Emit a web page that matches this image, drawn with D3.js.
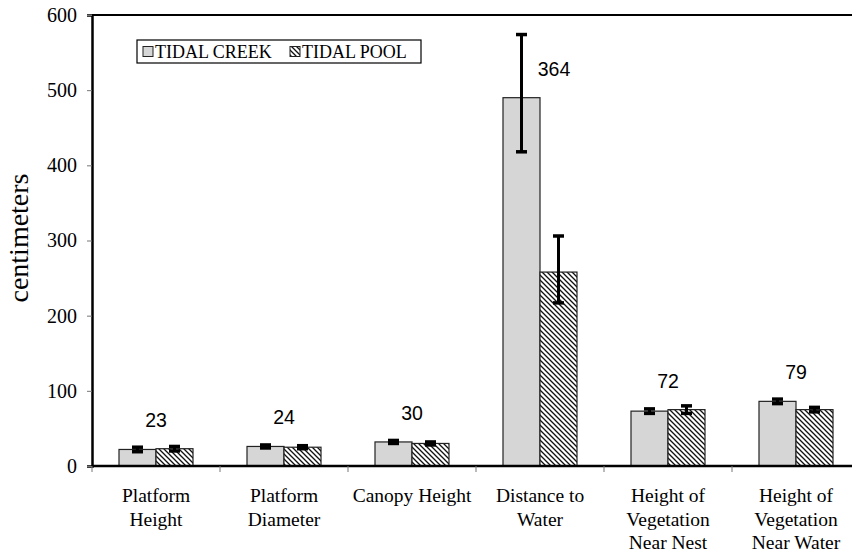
<!DOCTYPE html>
<html>
<head>
<meta charset="utf-8">
<script src="https://cdn.jsdelivr.net/npm/d3@7"></script>
<style>
  body { margin: 0; background: #fff; }
  svg { display: block; }
</style>
</head>
<body>
<div id="chart"></div>
<script>
// chart values
var categories = ["Platform Height", "Platform Diameter", "Canopy Height", "Distance to Water",
                  "Height of Vegetation Near Nest", "Height of Vegetation Near Water"];
var catLines = [["Platform", "Height"], ["Platform", "Diameter"], ["Canopy Height"], ["Distance to", "Water"],
                ["Height of", "Vegetation", "Near Nest"], ["Height of", "Vegetation", "Near Water"]];
var series = ["TIDAL CREEK", "TIDAL POOL"];
var creek = [22, 26, 32, 490, 73, 86];
var pool = [23, 25, 30, 258, 75, 75];
var creekErrHi = [3, 2, 2, 84, 3, 3];
var creekErrLo = [3, 2, 2, 72, 3, 3];
var poolErrHi = [3, 2, 2, 48, 5, 3];
var poolErrLo = [3, 2, 2, 41, 5, 3];
var nLabels = ["23", "24", "30", "364", "72", "79"];
var yTicks = [0, 100, 200, 300, 400, 500, 600];

var W = 852, H = 554;
var svg = d3.select("#chart").append("svg").attr("width", W).attr("height", H);

var defs = svg.append("defs");
var hatch = defs.append("pattern").attr("id", "hatch").attr("patternUnits", "userSpaceOnUse")
    .attr("width", 5).attr("height", 5);
hatch.append("rect").attr("width", 5).attr("height", 5).attr("fill", "#fff");
hatch.append("path").attr("d", "M0,0L5,5M-1,4L1,6M4,-1L6,1")
    .attr("stroke", "#111").attr("stroke-width", 1.3);

var y = d3.scaleLinear().domain([0, 600]).range([466, 15]);
var x = d3.scaleBand().domain(categories).range([92, 860]).padding(0);
var barW = 37;

// top border
svg.append("line").attr("x1", 92).attr("x2", 860).attr("y1", y(600)).attr("y2", y(600))
    .attr("stroke", "#000").attr("stroke-width", 2);

// y axis
var yAxis = svg.append("g").attr("transform", "translate(92,0)")
    .call(d3.axisLeft(y).tickValues(yTicks).tickSize(5).tickPadding(10));
yAxis.select(".domain").attr("stroke-width", 2.5);
yAxis.selectAll(".tick line").attr("stroke", "#777");
yAxis.selectAll("text").attr("font-family", "Liberation Serif").attr("font-size", 20).attr("fill", "#000");

svg.append("text").attr("transform", "translate(28,238) rotate(-90)")
    .attr("text-anchor", "middle").attr("font-family", "Liberation Serif").attr("font-size", 28)
    .text("centimeters");

// bars
var rows = categories.map(function(c, i) {
  return [
    {cat: c, i: i, s: 0, v: creek[i], hi: creekErrHi[i], lo: creekErrLo[i]},
    {cat: c, i: i, s: 1, v: pool[i], hi: poolErrHi[i], lo: poolErrLo[i]}
  ];
});
var flat = [].concat.apply([], rows);
function cx(d) { return x(d.cat) + x.bandwidth() / 2 + (d.s === 0 ? -barW : 0); }

svg.selectAll("rect.bar").data(flat).enter().append("rect").attr("class", "bar")
    .attr("x", cx).attr("width", barW)
    .attr("y", d => y(d.v)).attr("height", d => y(0) - y(d.v))
    .attr("fill", d => d.s === 0 ? "#d6d6d6" : "url(#hatch)")
    .attr("stroke", "#222").attr("stroke-width", 1.2);

// error bars
var eb = svg.selectAll("g.err").data(flat).enter().append("g").attr("class", "err");
eb.append("line").attr("x1", d => cx(d) + barW / 2).attr("x2", d => cx(d) + barW / 2)
    .attr("y1", d => y(d.v + d.hi)).attr("y2", d => y(d.v - d.lo))
    .attr("stroke", "#000").attr("stroke-width", 3);
eb.append("line").attr("x1", d => cx(d) + barW / 2 - 5.5).attr("x2", d => cx(d) + barW / 2 + 5.5)
    .attr("y1", d => y(d.v + d.hi)).attr("y2", d => y(d.v + d.hi))
    .attr("stroke", "#000").attr("stroke-width", 3.5);
eb.append("line").attr("x1", d => cx(d) + barW / 2 - 5.5).attr("x2", d => cx(d) + barW / 2 + 5.5)
    .attr("y1", d => y(d.v - d.lo)).attr("y2", d => y(d.v - d.lo))
    .attr("stroke", "#000").attr("stroke-width", 3.5);

// x axis
var xAxis = svg.append("g").attr("transform", "translate(0," + y(0) + ")");
xAxis.append("line").attr("x1", 92).attr("x2", 860).attr("stroke", "#000").attr("stroke-width", 2.5);
xAxis.selectAll("line.tk").data(categories.concat(["end"])).enter().append("line").attr("class", "tk")
    .attr("x1", (d, i) => 92 + i * x.step()).attr("x2", (d, i) => 92 + i * x.step())
    .attr("y1", 0).attr("y2", 6).attr("stroke", "#777");
var xl = xAxis.selectAll("text.cl").data(categories).enter().append("text").attr("class", "cl")
    .attr("text-anchor", "middle").attr("font-family", "Liberation Serif").attr("font-size", 19.5)
    .attr("transform", d => "translate(" + (x(d) + x.bandwidth() / 2) + ",0)");
xl.selectAll("tspan").data((d, i) => catLines[i]).enter().append("tspan")
    .attr("x", 0).attr("y", (d, j) => 36 + j * 23.5).text(d => d);

// count labels
svg.selectAll("text.n").data(rows).enter().append("text").attr("class", "n")
    .attr("text-anchor", "middle").attr("font-family", "Liberation Sans").attr("font-size", 19.5)
    .attr("x", (d, i) => x(categories[i]) + x.bandwidth() / 2 + (i === 3 ? 14 : 0))
    .attr("y", d => y(Math.max(d[0].v, d[1].v)) - 22)
    .text((d, i) => nLabels[i]);

// legend
var lg = svg.append("g").attr("transform", "translate(137,40)");
lg.append("rect").attr("width", 284).attr("height", 23).attr("fill", "#fff")
    .attr("stroke", "#000").attr("stroke-width", 1.2);
var li = lg.selectAll("g.li").data(series).enter().append("g").attr("class", "li")
    .attr("transform", (d, i) => "translate(" + (6 + i * 147) + ",0)");
li.append("rect").attr("x", 0).attr("y", 6.5).attr("width", 10).attr("height", 10)
    .attr("fill", (d, i) => i === 0 ? "#d6d6d6" : "url(#hatch)").attr("stroke", "#222");
li.append("text").attr("x", 12).attr("y", 18).attr("font-family", "Liberation Serif")
    .attr("font-size", 18).text(d => d);
</script>
</body>
</html>
